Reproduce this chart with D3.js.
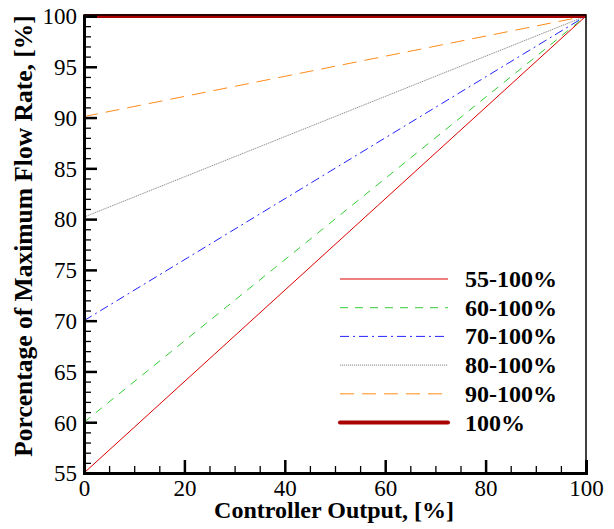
<!DOCTYPE html>
<html>
<head>
<meta charset="utf-8">
<script src="https://cdn.jsdelivr.net/npm/d3@7"></script>
<style>
  body { margin: 0; background: #fff; }
  svg text { font-family: "Liberation Serif", "Times New Roman", serif !important; fill: #000; }
</style>
</head>
<body>
<svg width="614" height="529"></svg>
<script>
'use strict';

// controller output range
var outputs = [0, 100];
// flow rate at 0% output for each curve
var labels = ['55-100%', '60-100%', '70-100%', '80-100%', '90-100%', '100%'];
var startFlow = [55, 60, 70, 80.2, 90.1, 100];
var endFlow = [100, 100, 100, 100, 100, 100];
var colors = ['#dd0000', '#33cc33', '#2222ff', '#888888', '#ff8c1a', '#aa0000'];
var dashes = [null, '8,7', '9,4,2,4', '1.2,0.8', '14,8', null];
var widths = [1, 1, 1, 1, 1, 4];

var xTicks = [0, 20, 40, 60, 80, 100];
var yTicks = [55, 60, 65, 70, 75, 80, 85, 90, 95, 100];

var svg = d3.select('svg');
var margin = {left: 84, top: 16, right: 586, bottom: 473};

var x = d3.scaleLinear().domain([0, 100]).range([margin.left, margin.right]);
var y = d3.scaleLinear().domain([55, 100]).range([margin.bottom, margin.top]);

// series
var line = d3.line()
  .x(function(d) { return x(d[0]); })
  .y(function(d) { return y(d[1]); });

var gLines = svg.append('g');
labels.forEach(function(l, i) {
  var pts = [[outputs[0], startFlow[i]], [outputs[1], endFlow[i]]];
  gLines.append('path')
    .attr('d', line(pts))
    .attr('fill', 'none')
    .attr('stroke', colors[i])
    .attr('stroke-width', widths[i])
    .attr('stroke-dasharray', dashes[i]);
});

// frame (right/top thin), drawn over the lines
svg.append('rect')
  .attr('x', margin.left).attr('y', margin.top - 1)
  .attr('width', margin.right - margin.left)
  .attr('height', margin.bottom - margin.top + 1)
  .attr('fill', 'none').attr('stroke', '#000').attr('stroke-width', 1.5);

// axes with inward ticks
var xMinor = d3.range(0, 101, 5).filter(function(v) { return v % 20; });
var yMinor = d3.range(55, 101, 1).filter(function(v) { return v % 5; });

var gx = svg.append('g').attr('transform', 'translate(0,' + margin.bottom + ')');
gx.call(d3.axisBottom(x).tickValues(xMinor).tickSize(-7).tickFormat(''));
var gxMajor = gx.append('g')
  .call(d3.axisBottom(x).tickValues(xTicks).tickSize(-13).tickFormat(d3.format('d')));
gxMajor.selectAll('.tick text').attr('y', 23).attr('dy', 0);

var gy = svg.append('g').attr('transform', 'translate(' + margin.left + ',0)');
gy.call(d3.axisLeft(y).tickValues(yMinor).tickSize(-7).tickFormat(''));
var gyMajor = gy.append('g')
  .call(d3.axisLeft(y).tickValues(yTicks).tickSize(-13).tickFormat(d3.format('d')));
gyMajor.selectAll('.tick text').attr('x', -7).attr('dy', '0.34em');

svg.selectAll('g').attr('font-family', null).attr('font-size', null);
svg.selectAll('.domain').attr('stroke-width', 3).attr('stroke', '#000');
svg.selectAll('.tick line').attr('stroke', '#000').attr('stroke-width', 1.3);
gxMajor.selectAll('.tick line').attr('stroke-width', 2.5);
gyMajor.selectAll('.tick line').attr('stroke-width', 2.5);
svg.selectAll('.tick text').style('font-size', '23px');

// axis titles
svg.append('text')
  .attr('x', 334).attr('y', 518)
  .attr('text-anchor', 'middle')
  .style('font-weight', 'bold').style('font-size', '24px')
  .text('Controller Output, [%]');
svg.append('text')
  .attr('transform', 'translate(32,236) rotate(-90)')
  .attr('text-anchor', 'middle')
  .style('font-weight', 'bold').style('font-size', '25.5px')
  .text('Porcentage of Maximum Flow Rate, [%]');

// legend
var legend = svg.append('g');
labels.forEach(function(l, i) {
  var ly = 279 + i * 28.7;
  legend.append('line')
    .attr('x1', 340).attr('x2', 448)
    .attr('y1', ly).attr('y2', ly)
    .attr('stroke', colors[i])
    .attr('stroke-width', widths[i])
    .attr('stroke-linecap', widths[i] > 2 ? 'round' : 'butt')
    .attr('stroke-dasharray', dashes[i]);
  legend.append('text')
    .attr('x', 465).attr('y', ly + 8)
    .style('font-weight', 'bold').style('font-size', '24px')
    .text(l);
});
</script>
</body>
</html>
